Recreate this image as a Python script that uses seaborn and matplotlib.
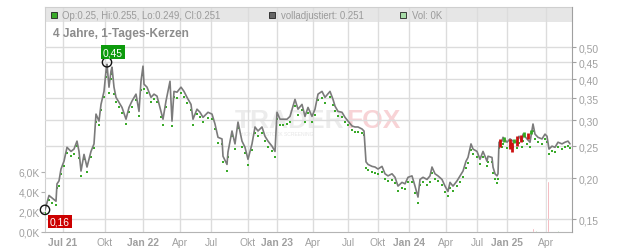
import matplotlib
matplotlib.use("Agg")
import matplotlib.pyplot as plt
import seaborn as sns
import pandas as pd
import numpy as np
from matplotlib.ticker import FixedLocator, NullLocator, FixedFormatter
from matplotlib.patches import Rectangle

sns.set_style("white")
plt.rcParams['font.family'] = ['Liberation Sans', 'DejaVu Sans']

# ---------------- data ----------------
# trading-bar index (x position of each sampled day)
bars = [
    0, 4, 7, 11, 12, 14, 16, 19, 22, 26,
    29, 32, 34, 36, 39, 42, 46, 49, 51, 54,
    56, 59, 61, 62, 64, 66, 67, 69, 71, 74,
    77, 81, 84, 87, 91, 94, 96, 98, 99, 102,
    106, 109, 112, 116, 118, 121, 125, 127, 129, 132,
    136, 139, 142, 146, 148, 152, 155, 158, 163, 167,
    170, 173, 177, 178, 182, 183, 187, 190, 193, 197,
    200, 203, 207, 210, 213, 217, 220, 223, 227, 230,
    232, 235, 238, 242, 245, 250, 253, 257, 260, 263,
    267, 270, 273, 277, 280, 285, 288, 290, 293, 297,
    300, 303, 307, 310, 313, 317, 319, 321, 323, 327,
    330, 333, 337, 340, 343, 347, 350, 353, 357, 360,
    363, 367, 370, 373, 375, 378, 382, 385, 387, 390,
    393, 397, 400, 403, 405, 408, 412, 415, 418, 421,
    423, 426, 428, 432, 435, 438, 442, 443, 447, 448,
    450, 452, 453, 454, 457, 458, 462, 465, 468, 472,
    474, 477, 478, 482, 485, 488, 490, 493, 497, 500,
    502, 504, 507, 510, 513, 517, 520, 523, 525,
]
# fully adjusted close (grey line)
close = [
    0.160, 0.177, 0.174, 0.170, 0.192, 0.196, 0.213, 0.225, 0.248, 0.241,
    0.245, 0.259, 0.241, 0.210, 0.236, 0.216, 0.241, 0.254, 0.313, 0.298,
    0.335, 0.367, 0.423, 0.444, 0.378, 0.423, 0.435, 0.378, 0.352, 0.340,
    0.328, 0.302, 0.328, 0.343, 0.360, 0.319, 0.394, 0.438, 0.386, 0.378,
    0.352, 0.360, 0.355, 0.319, 0.302, 0.343, 0.394, 0.298, 0.367, 0.365,
    0.378, 0.367, 0.352, 0.335, 0.302, 0.324, 0.317, 0.306, 0.317, 0.313,
    0.292, 0.266, 0.263, 0.233, 0.220, 0.240, 0.278, 0.254, 0.296, 0.259,
    0.248, 0.228, 0.254, 0.286, 0.278, 0.286, 0.268, 0.259, 0.250, 0.241,
    0.317, 0.302, 0.302, 0.302, 0.308, 0.347, 0.324, 0.335, 0.308, 0.328,
    0.308, 0.324, 0.360, 0.367, 0.352, 0.367, 0.347, 0.331, 0.319, 0.317,
    0.306, 0.298, 0.288, 0.286, 0.286, 0.282, 0.278, 0.224, 0.220, 0.217,
    0.216, 0.213, 0.217, 0.206, 0.203, 0.206, 0.201, 0.189, 0.194, 0.192,
    0.201, 0.203, 0.189, 0.175, 0.198, 0.201, 0.198, 0.203, 0.216, 0.206,
    0.203, 0.198, 0.189, 0.182, 0.194, 0.189, 0.196, 0.203, 0.210, 0.225,
    0.231, 0.254, 0.245, 0.241, 0.228, 0.241, 0.225, 0.233, 0.231, 0.216,
    0.206, 0.203, 0.206, 0.257, 0.259, 0.266, 0.257, 0.263, 0.259, 0.257,
    0.268, 0.259, 0.272, 0.263, 0.257, 0.292, 0.272, 0.266, 0.263, 0.272,
    0.268, 0.245, 0.250, 0.248, 0.257, 0.254, 0.257, 0.259, 0.254,
]
# unadjusted price dots (green)
low = [
    0.157, 0.171, 0.168, 0.166, 0.186, 0.189, 0.205, 0.218, 0.238, 0.233,
    0.236, 0.250, 0.230, 0.203, 0.228, 0.208, 0.232, 0.246, 0.296, 0.289,
    0.322, 0.352, 0.405, 0.420, 0.362, 0.401, 0.415, 0.360, 0.341, 0.329,
    0.316, 0.292, 0.317, 0.330, 0.346, 0.308, 0.370, 0.412, 0.372, 0.363,
    0.340, 0.347, 0.341, 0.306, 0.290, 0.330, 0.378, 0.288, 0.352, 0.350,
    0.362, 0.354, 0.339, 0.323, 0.290, 0.313, 0.306, 0.296, 0.305, 0.302,
    0.281, 0.256, 0.254, 0.224, 0.210, 0.231, 0.268, 0.245, 0.283, 0.249,
    0.238, 0.219, 0.244, 0.274, 0.268, 0.275, 0.259, 0.249, 0.241, 0.232,
    0.303, 0.291, 0.290, 0.292, 0.296, 0.331, 0.312, 0.322, 0.297, 0.315,
    0.297, 0.312, 0.345, 0.351, 0.339, 0.352, 0.334, 0.320, 0.309, 0.306,
    0.297, 0.289, 0.280, 0.277, 0.277, 0.274, 0.270, 0.215, 0.212, 0.209,
    0.207, 0.205, 0.208, 0.198, 0.196, 0.197, 0.193, 0.182, 0.186, 0.185,
    0.194, 0.195, 0.180, 0.168, 0.190, 0.194, 0.191, 0.195, 0.207, 0.198,
    0.196, 0.190, 0.181, 0.176, 0.186, 0.182, 0.189, 0.195, 0.202, 0.215,
    0.222, 0.243, 0.236, 0.232, 0.220, 0.231, 0.217, 0.224, 0.223, 0.207,
    0.198, 0.193, 0.199, 0.247, 0.248, 0.254, 0.246, 0.251, 0.248, 0.247,
    0.256, 0.249, 0.260, 0.253, 0.248, 0.278, 0.262, 0.257, 0.254, 0.262,
    0.258, 0.237, 0.241, 0.240, 0.248, 0.245, 0.248, 0.250, 0.246,
]
# recent candles (Jan 25 region)
candle_bar = [455, 459, 465, 467, 469, 472, 476, 479, 483, 486]
candle_open = [0.262, 0.258, 0.262, 0.258, 0.255, 0.268, 0.270, 0.266, 0.275, 0.272]
candle_close = [0.248, 0.266, 0.245, 0.240, 0.262, 0.250, 0.258, 0.276, 0.262, 0.280]
# volume (thousands)
vol_bar = [488, 491, 503, 513]
vol_k = [0.4, 0.2, 5.1, 0.2]
vol_up = [False, True, False, True]
# extremes
hi_value, hi_bar = 0.45, 62
lo_value, lo_bar = 0.16, 0

# axis ticks / labels
x_tick_pos = [18, 60, 98, 135, 166, 203, 232, 268, 303, 333, 364, 401, 432, 462, 501]
x_tick_lab = ["Jul 21", "Okt", "Jan 22", "Apr", "Jul", "Okt", "Jan 23", "Apr",
              "Jul", "Okt", "Jan 24", "Apr", "Jul", "Jan 25", "Apr"]
price_ticks = [0.15, 0.20, 0.25, 0.30, 0.35, 0.40, 0.45, 0.50]
vol_ticks = [0, 2, 4, 6]

df = pd.DataFrame({"bar": bars, "close": close, "low": low})

W, H = 632, 253
fig = plt.figure(figsize=(W / 100, H / 100), dpi=100)
fig.patch.set_facecolor("white")
ax = fig.add_axes([45 / W, 20 / H, 527 / W, 225 / H])
ax2 = ax.twinx()

grid_c = "#dcdcdc"
lab_c = "#a0a0a0"

# header band
ax.add_patch(Rectangle((0, 1 - 15 / 225), 1, 15 / 225, transform=ax.transAxes,
                       facecolor="#e6e6e6", edgecolor="none", zorder=0.2))
ax.set_axisbelow(True)

# watermark
ax.text(235 / W, 1 - 121 / H, "TRADER", transform=fig.transFigure, fontsize=19,
        fontweight="bold", color="#ececec", ha="left", va="center", zorder=0.3)
ax.text(346 / W, 1 - 121 / H, "FOX", transform=fig.transFigure, fontsize=19,
        fontweight="bold", color="#f8d3d6", ha="left", va="center", zorder=0.3)
ax.text(240 / W, 1 - 135 / H, "HIGH-END STOCK SCREENING", transform=fig.transFigure,
        fontsize=3.6, color="#e6e6e6", ha="left", va="center", zorder=0.3)

# volume bars
vcol = ["#a8dca8" if u else "#ee939d" for u in vol_up]
ax.bar(vol_bar, vol_k, width=1.7, color=vcol, zorder=2)
ax.set_xlim(0, 527)
ax.set_ylim(0, 22.5)
ax.grid(axis="x", color=grid_c, lw=1)
ax.grid(axis="y", visible=False)
ax.set_xticks(x_tick_pos)
ax.set_xticklabels(x_tick_lab)
for t in ax.get_xticklabels():
    if t.get_text().startswith("Jan") or t.get_text() == "Jul 21":
        t.set_fontweight("bold")
ax.tick_params(axis="x", length=0, pad=3.5, labelsize=7.4, labelcolor=lab_c)
ax.yaxis.set_major_locator(FixedLocator(vol_ticks))
ax.yaxis.set_major_formatter(FixedFormatter([f"{v:.1f}K".replace(".", ",") for v in vol_ticks]))
ax.tick_params(axis="y", direction="out", length=3, width=0.8, color="#b0b0b0",
               pad=1, labelsize=7.4, labelcolor=lab_c)
ax.set_xlabel("")
ax.set_ylabel("")
ax.spines["left"].set_color("#cfcfcf")
ax.spines["top"].set_color("#cfcfcf")
ax.spines["bottom"].set_color("#b4b4b4")
ax.spines["right"].set_visible(False)

# price
sns.lineplot(data=df, x="bar", y="close", ax=ax2, color="#7b7b7b", lw=1.2, zorder=3)
sns.scatterplot(data=df, x="bar", y="low", ax=ax2, color="#3aaa2a", s=2.5,
                marker="s", linewidth=0, zorder=2.5)
c_lo = np.minimum(candle_open, candle_close)
c_hi = np.maximum(candle_open, candle_close)
c_col = ["#cc1111" if c < o else "#33aa22" for o, c in zip(candle_open, candle_close)]
ax2.vlines(candle_bar, c_lo, c_hi, colors=c_col, lw=2.0, zorder=3.5)

ax2.set_yscale("log")
ax2.set_ylim(0.137, 0.663)
ax2.yaxis.set_major_locator(FixedLocator(price_ticks))
ax2.yaxis.set_minor_locator(NullLocator())
ax2.yaxis.set_major_formatter(FixedFormatter([f"{v:.2f}".replace(".", ",") for v in price_ticks]))
ax2.tick_params(axis="y", direction="out", length=3, width=0.8, color="#a0a0a0",
                pad=1.5, labelsize=7.4, labelcolor=lab_c)
ax2.grid(axis="y", color=grid_c, lw=1)
ax2.grid(axis="x", visible=False)
ax2.set_xlabel("")
ax2.set_ylabel("")
for s in ["left", "top", "bottom"]:
    ax2.spines[s].set_visible(False)
ax2.spines["right"].set_color("#a0a0a0")
ax2.set_xlim(0, 527)

# extremes markers
ax2.scatter([hi_bar, lo_bar], [hi_value, lo_value], s=45, facecolors="none",
            edgecolors="#111111", linewidths=1.0, zorder=5, clip_on=False)
ax2.annotate(f"{hi_value:.2f}".replace(".", ","), xy=(hi_bar, hi_value),
             xytext=(6, 10), textcoords="offset pixels", ha="center", va="center",
             color="white", fontsize=7.4, zorder=6,
             bbox=dict(boxstyle="square,pad=0.18", fc="#0c9a0c", ec="none"))
ax2.annotate(f"{lo_value:.2f}".replace(".", ","), xy=(lo_bar, lo_value),
             xytext=(15, -11.5), textcoords="offset pixels", ha="center", va="center",
             color="white", fontsize=7.4, zorder=6, annotation_clip=False,
             bbox=dict(boxstyle="square,pad=0.18", fc="#cc0000", ec="none"))

# header legend
def square(x, color):
    fig.add_artist(Rectangle((x / W, 1 - 19 / H), 6 / W, 6 / H, transform=fig.transFigure,
                             facecolor=color, edgecolor="#222222", lw=0.6))

hc = "#9a9a9a"
square(50.5, "#3aaa2a")
fig.text(62 / W, 1 - 16 / H, "Op:0.25, Hi:0.255, Lo:0.249, Cl:0.251", fontsize=6.9,
         color=hc, va="center", ha="left")
square(268.5, "#666666")
fig.text(281 / W, 1 - 16 / H, "volladjustiert: 0.251", fontsize=6.9, color=hc,
         va="center", ha="left")
square(399.5, "#a8dca8")
fig.text(412 / W, 1 - 16 / H, "Vol: 0K", fontsize=6.9, color=hc, va="center", ha="left")
fig.text(53 / W, 1 - 34 / H, "4 Jahre, 1-Tages-Kerzen", fontsize=8.6, fontweight="bold",
         color="#8c8c8c", va="center", ha="left")

fig.savefig("out.png", dpi=100)
